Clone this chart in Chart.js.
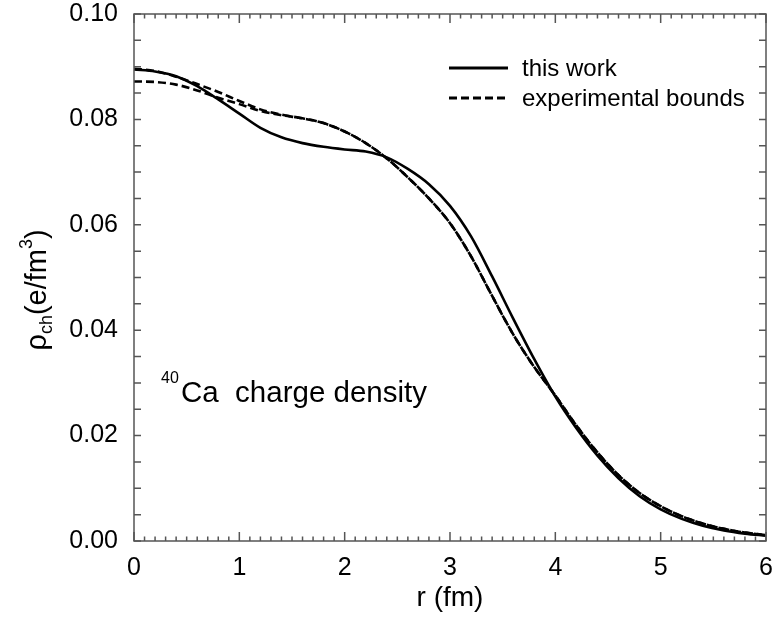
<!DOCTYPE html>
<html>
<head>
<meta charset="utf-8">
<script src="https://cdn.jsdelivr.net/npm/chart.js@4.4.1/dist/chart.umd.min.js"></script>
<style>
  html, body { margin: 0; padding: 0; background: #fff; }
  #wrap { width: 775px; height: 619px; }
</style>
</head>
<body>
<div id="wrap"><canvas id="chart" width="775" height="619"></canvas></div>
<script>
// radius grid (fm)
const rValues = [0.0, 0.2, 0.4, 0.6, 0.8, 1.0, 1.2, 1.4, 1.6, 1.8, 2.0, 2.2, 2.4, 2.6, 2.8, 3.0,
                 3.2, 3.4, 3.6, 3.8, 4.0, 4.2, 4.4, 4.6, 4.8, 5.0, 5.2, 5.4, 5.6, 5.8, 6.0];

// charge density, this work (e/fm^3)
const thisWork = [0.0895, 0.0891, 0.0882, 0.0863, 0.0838, 0.0811, 0.0784, 0.0766, 0.0755, 0.0748,
                  0.0743, 0.0739, 0.0728, 0.0706, 0.0677, 0.0636, 0.0578, 0.0502, 0.0422, 0.0345,
                  0.0274, 0.0214, 0.0162, 0.0119, 0.0085, 0.0060, 0.0042, 0.0029, 0.0020, 0.0014, 0.0010];

// experimental bounds (upper / lower)
const boundUpper = [0.0896, 0.0892, 0.0881, 0.0867, 0.0852, 0.0835, 0.0819, 0.0809, 0.0802, 0.0793,
                    0.0777, 0.0755, 0.0726, 0.0690, 0.0650, 0.0603, 0.0540, 0.0465, 0.0392, 0.0330,
                    0.0276, 0.0219, 0.0168, 0.0125, 0.0091, 0.0066, 0.0047, 0.0033, 0.0023, 0.0016, 0.0011];
const boundLower = [0.0872, 0.0871, 0.0866, 0.0855, 0.0841, 0.0829, 0.0816, 0.0808, 0.0802, 0.0793,
                    0.0777, 0.0755, 0.0726, 0.0690, 0.0650, 0.0603, 0.0540, 0.0465, 0.0392, 0.0330,
                    0.0276, 0.0219, 0.0168, 0.0125, 0.0091, 0.0066, 0.0047, 0.0033, 0.0023, 0.0016, 0.0011];

const xTicks = [0, 1, 2, 3, 4, 5, 6];
const yTicks = [0.00, 0.02, 0.04, 0.06, 0.08, 0.10];

const FONT = '"Liberation Sans", Arial, Helvetica, sans-serif';
const toPoints = (ys) => rValues.map((r, i) => ({ x: r, y: ys[i] }));

// --- frame + inward ticks on all four sides ---
const frameTicks = {
    id: 'frameTicks',
    afterDatasetsDraw(chart) {
        const { ctx, chartArea: a, scales: { x, y } } = chart;
        ctx.save();
        ctx.strokeStyle = '#555';
        ctx.lineWidth = 1.5;
        ctx.strokeRect(a.left, a.top, a.right - a.left, a.bottom - a.top);
        ctx.beginPath();
        for (let i = 0; i <= 60; i++) {
            const px = x.getPixelForValue(i / 10);
            const len = i % 10 === 0 ? 9 : 4.5;
            ctx.moveTo(px, a.bottom); ctx.lineTo(px, a.bottom - len);
            ctx.moveTo(px, a.top); ctx.lineTo(px, a.top + len);
        }
        for (let i = 0; i <= 20; i++) {
            const py = y.getPixelForValue(i * 0.005);
            ctx.moveTo(a.left, py); ctx.lineTo(a.left + 7, py);
            ctx.moveTo(a.right, py); ctx.lineTo(a.right - 7, py);
        }
        ctx.stroke();
        ctx.restore();
    }
};

// --- legend, annotation and y title with sub/superscripts ---
const textBits = {
    id: 'textBits',
    afterDraw(chart) {
        const { ctx } = chart;
        const ds = chart.data.datasets;
        ctx.save();
        ctx.fillStyle = '#000';
        ctx.textBaseline = 'alphabetic';

        // legend
        ctx.font = '24px ' + FONT;
        [[ds[0], 68], [ds[1], 98]].forEach(([d, yy]) => {
            ctx.beginPath();
            ctx.setLineDash(d.borderDash || []);
            ctx.lineWidth = 3;
            ctx.strokeStyle = '#000';
            ctx.moveTo(449, yy); ctx.lineTo(508, yy);
            ctx.stroke();
            ctx.setLineDash([]);
            ctx.fillText(d.label, 522, yy + 8);
        });

        // 40Ca annotation
        ctx.font = '16px ' + FONT;
        ctx.fillText('40', 161, 383);
        ctx.font = '29.5px ' + FONT;
        ctx.fillText('Ca  charge density', 181, 402);

        // y axis title
        ctx.translate(46, 290);
        ctx.rotate(-Math.PI / 2);
        const big = '29px ' + FONT, small = '18px ' + FONT;
        const parts = [['\u03C1', big, 0], ['ch', small, 6], ['(e/fm', big, 0], ['3', small, -14], [')', big, 0]];
        let total = 0;
        parts.forEach(p => { ctx.font = p[1]; total += ctx.measureText(p[0]).width; });
        let cx = -total / 2;
        parts.forEach(p => {
            ctx.font = p[1];
            ctx.fillText(p[0], cx, p[2]);
            cx += ctx.measureText(p[0]).width;
        });
        ctx.restore();
    }
};

new Chart(document.getElementById('chart'), {
    type: 'line',
    data: {
        datasets: [
            { label: 'this work', data: toPoints(thisWork), borderColor: '#000', borderWidth: 2.6 },
            { label: 'experimental bounds', data: toPoints(boundUpper), borderColor: '#000', borderWidth: 2.6, borderDash: [8, 4] },
            { label: '', data: toPoints(boundLower), borderColor: '#000', borderWidth: 2.6, borderDash: [8, 4] }
        ]
    },
    options: {
        responsive: false,
        animation: false,
        layout: { padding: { top: 14, right: 9, left: 0, bottom: 0 } },
        elements: { point: { radius: 0 }, line: { cubicInterpolationMode: 'monotone', fill: false } },
        plugins: { legend: { display: false }, tooltip: { enabled: false } },
        scales: {
            x: {
                type: 'linear', min: 0, max: 6,
                afterFit: (s) => { s.height = 78; s.paddingLeft = 0; s.paddingRight = 0; },
                afterBuildTicks: (s) => { s.ticks = xTicks.map(v => ({ value: v })); },
                grid: { display: false, drawTicks: false },
                border: { display: false },
                ticks: { color: '#000', font: { family: FONT, size: 25 }, padding: 12, maxRotation: 0 },
                title: { display: true, text: 'r (fm)', color: '#000', font: { family: FONT, size: 28 }, padding: { top: 0 } }
            },
            y: {
                type: 'linear', min: 0, max: 0.10,
                afterFit: (s) => { s.width = 134; s.paddingTop = 0; s.paddingBottom = 0; },
                afterBuildTicks: (s) => { s.ticks = yTicks.map(v => ({ value: v })); },
                grid: { display: false, drawTicks: false },
                border: { display: false },
                ticks: { color: '#000', font: { family: FONT, size: 25 }, padding: 16, callback: (v) => v.toFixed(2) }
            }
        }
    },
    plugins: [frameTicks, textBits]
});
</script>
</body>
</html>
